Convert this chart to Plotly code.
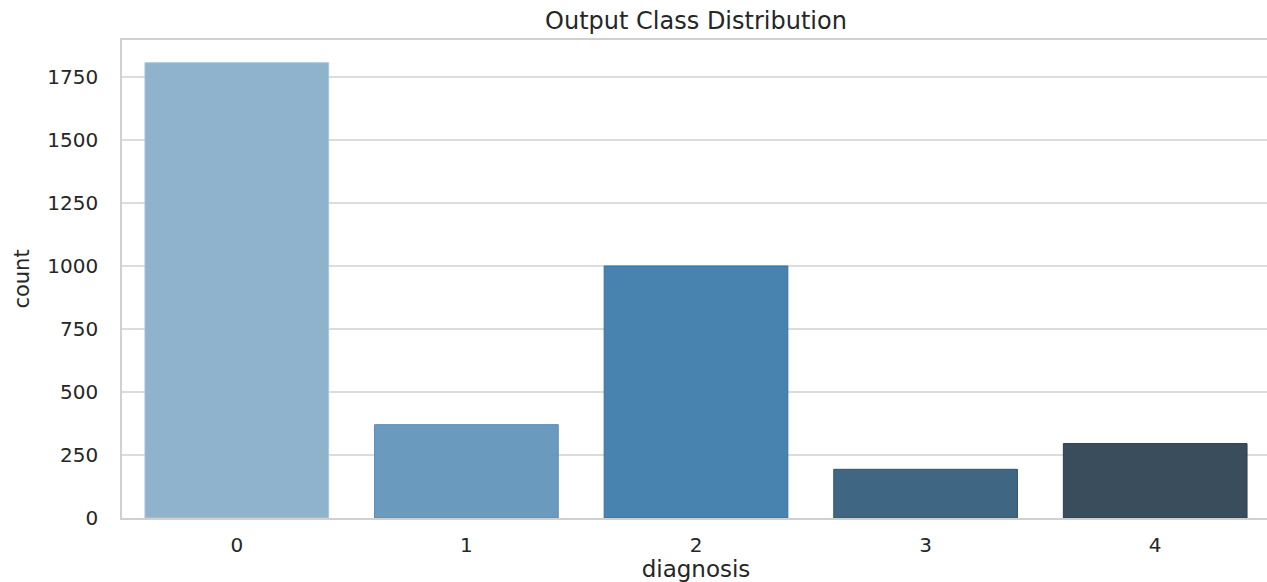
import plotly.graph_objects as go

categories = ["0", "1", "2", "3", "4"]
counts = [1805, 370, 999, 193, 295]
colors = ["#90b3cd", "#6a9bbe", "#4883b0", "#3f6784", "#3a4d5c"]
edge_colors = ["#a9c6db", "#5a8db3", "#2f74a8", "#2e5878", "#2c3e4d"]

W, H = 1270, 582

fig = go.Figure(go.Bar(
    x=categories, y=counts,
    marker=dict(color=colors, line=dict(color=edge_colors, width=1)),
    width=0.8,
))

fig.update_layout(
    width=W, height=H,
    margin=dict(l=122, r=0, t=40, b=64, autoexpand=False),
    paper_bgcolor="white", plot_bgcolor="white",
    font=dict(family="DejaVu Sans", size=20, color="#262626"),
    title=dict(text="Output Class Distribution", x=0.5, xref="paper", xanchor="center",
               yref="container", y=1 - 21 / H, yanchor="middle",
               font=dict(size=24, color="#262626")),
    showlegend=False,
)
fig.update_xaxes(
    type="category", range=[-0.5, 4.5],
    showline=True, linecolor="#d0d0d0", linewidth=1.5, mirror=True,
    showgrid=False, ticks="", ticklabelstandoff=8,
    tickfont=dict(size=20),
    title=dict(text="diagnosis", font=dict(size=23), standoff=4),
)
fig.update_yaxes(
    range=[0, 1895], tickvals=[0, 250, 500, 750, 1000, 1250, 1500, 1750],
    showline=True, linecolor="#d0d0d0", linewidth=1.5,
    showgrid=True, gridcolor="#dcdcdc", gridwidth=1.5, zeroline=False,
    ticks="", ticklabelstandoff=18,
    tickfont=dict(size=20),
    title=dict(text="count", font=dict(size=21), standoff=12),
)

fig.write_html(
    "out.html",
    config={"displayModeBar": False},
    post_script="document.body.style.margin='0';document.body.style.overflow='hidden';",
)
